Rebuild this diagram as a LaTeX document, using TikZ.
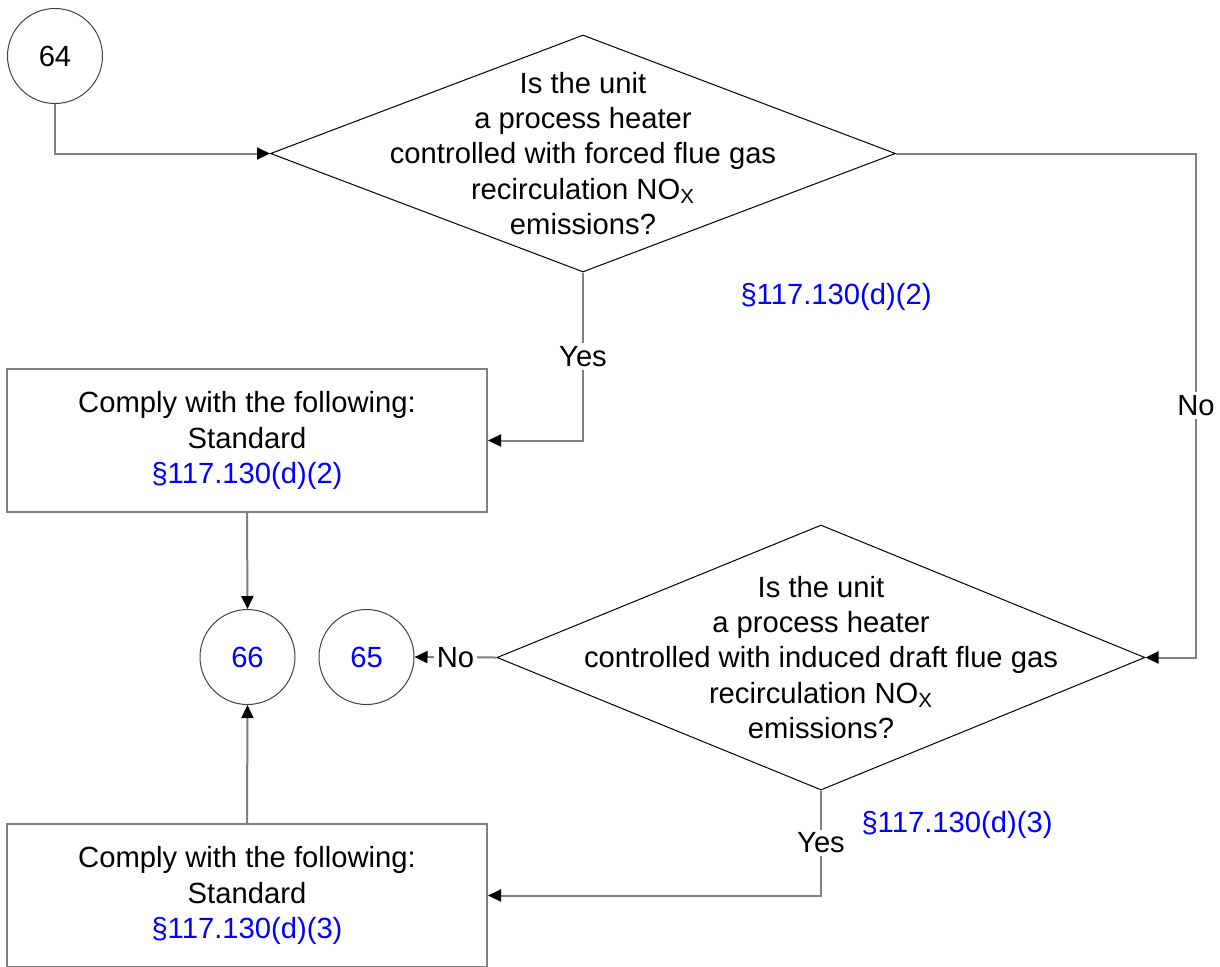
\documentclass[tikz,border=0pt]{standalone}
\usepackage{fontspec}
\setmainfont{Liberation Sans}
\usetikzlibrary{positioning,arrows.meta,shapes.geometric}
\definecolor{linegray}{HTML}{808080}
\definecolor{refblue}{HTML}{0000FF}

\begin{document}
\begin{tikzpicture}[
    x=0.5pt, y=-0.5pt,
    font=\fontsize{14.6pt}{17.6pt}\selectfont,
    >={Triangle[length=6.5pt, width=6pt, color=black]},
    connector/.style = {circle, draw=black!75, line width=0.5pt, minimum size=47.5pt, inner sep=0pt},
    decision/.style  = {diamond, draw=black, line width=0.5pt, inner sep=0pt},
    qtext/.style     = {align=center, inner sep=0pt},
    process/.style   = {rectangle, draw=linegray, line width=1pt, minimum width=240pt, minimum height=71.5pt, align=center},
    flow/.style      = {->, draw=linegray, line width=1pt},
    lbl/.style       = {fill=white, inner sep=1.5pt, text=black},
    ref/.style       = {text=refblue}
]
\useasboundingbox (0,0) rectangle (1220,966);

% START CONNECTOR
\node[connector] (c64) at (55,56) {64};

% FIRST QUESTION
\node[decision, minimum width=312.5pt, minimum height=118.5pt] (q1) at (583,153.5) {};
\node[qtext] (q1t) at (q1) {Is the unit\\a process heater\\controlled with forced flue gas\\recirculation NO\textsubscript{X}\\emissions?};
\node[ref] (r1) at (836,297) {§117.130(d)(2)};

% SECOND QUESTION
\node[decision, minimum width=324pt, minimum height=132.5pt] (q2) at (821,657.5) {};
\node[qtext] (q2t) at (q2) {Is the unit\\a process heater\\controlled with induced draft flue gas\\recirculation NO\textsubscript{X}\\emissions?};
\node[ref] (r2) at (957,825) {§117.130(d)(3)};

% STANDARDS
\node[process] (b1) at (247,440.5) {Comply with the following:\\Standard\\\textcolor{refblue}{§117.130(d)(2)}};
\node[process] (b2) at (247,895.5) {Comply with the following:\\Standard\\\textcolor{refblue}{§117.130(d)(3)}};

% OFF-PAGE CONNECTORS
\node[connector, text=refblue] (c66) at (247.5,657) {66};
\node[connector, text=refblue] (c65) at (366.5,657) {65};

% FLOW
\draw[flow] (c64.south) |- (q1.west);
\draw[flow] (q1.south) |- node[lbl, pos=0.25] {Yes} (b1.east);
\draw[flow] (q1.east) -- ++(300,0) |- node[lbl, pos=0.25] {No} (q2.east);
\draw[flow] (q2.west) -- node[lbl, pos=0.5] {No} (c65.east);
\draw[flow] (q2.south) |- node[lbl, pos=0.25] {Yes} (b2.east);
\draw[flow] (b1.south) -- (c66.north);
\draw[flow] (b2.north) -- (c66.south);

\end{tikzpicture}
\end{document}
